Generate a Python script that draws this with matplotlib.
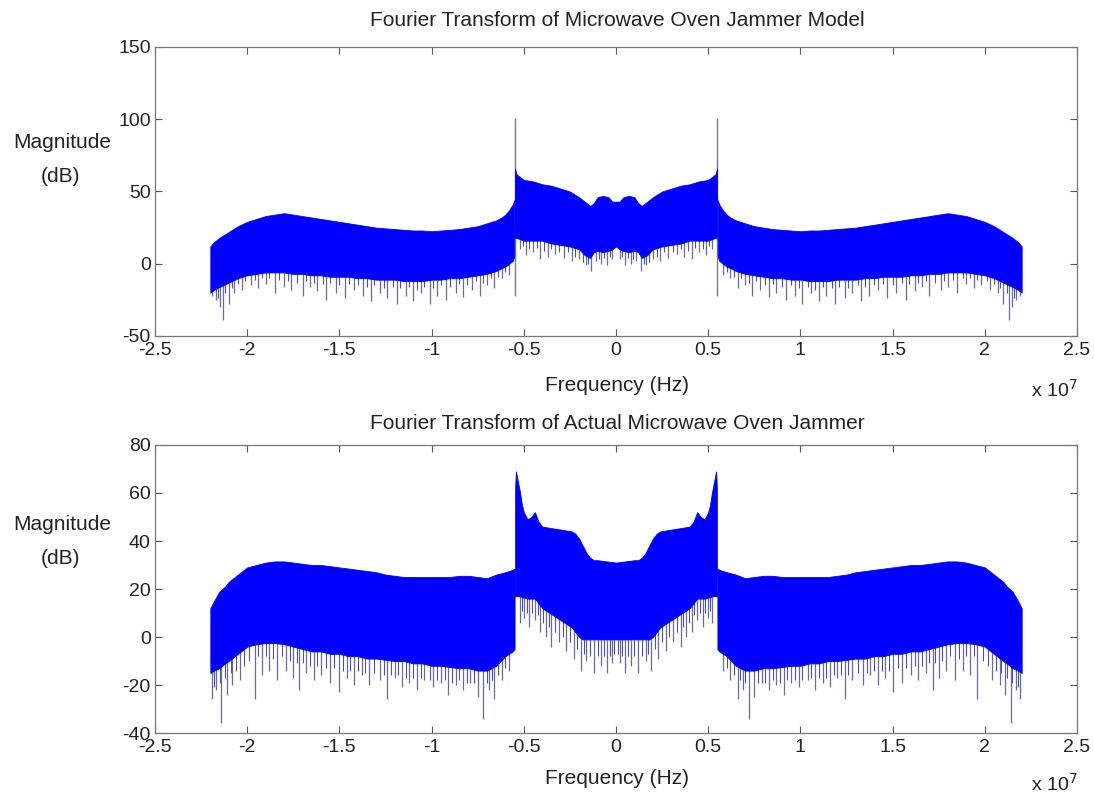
import matplotlib
matplotlib.use("Agg")
import matplotlib.pyplot as plt
import numpy as np

plt.rcParams['font.family'] = ['Liberation Sans', 'DejaVu Sans']
plt.rcParams['axes.unicode_minus'] = False

# spectra are symmetric (real signals), so only the negative-frequency half is read
# frequencies in units of 1e7 Hz, magnitudes in dB

# --- model jammer (top) ---
model_out_f = [-2.20, -2.18, -2.15, -2.10, -2.05, -2.00, -1.95, -1.90, -1.85, -1.80,
               -1.75, -1.70, -1.65, -1.60, -1.55, -1.50, -1.45, -1.40, -1.35, -1.30,
               -1.25, -1.20, -1.15, -1.10, -1.05, -1.00, -0.95, -0.90, -0.85, -0.80,
               -0.75, -0.70, -0.65, -0.62, -0.60, -0.58, -0.56, -0.552]
model_out_hi = [12, 15, 18, 22, 26, 29, 31, 33, 34, 35,
                34, 33, 32, 31, 30, 29, 28, 27, 26, 25,
                24.5, 24, 23.5, 23, 23, 22.5, 23, 23.5, 24, 25,
                26, 28, 30, 32, 34, 37, 41, 44]
model_out_lo = [-20, -18, -16, -13, -10, -8, -7, -6, -6, -6,
                -7, -7, -8, -8, -9, -9, -9, -10, -10, -11,
                -11, -11, -12, -12, -12, -11, -11, -10, -10, -9,
                -8, -7, -5, -3, -2, 0, 2, 5]
model_mid_f = [-0.548, -0.54, -0.52, -0.50, -0.45, -0.40, -0.35, -0.30, -0.25, -0.20,
               -0.17, -0.14, -0.12, -0.10, -0.07, -0.04, -0.02, 0.0]
model_mid_hi = [66, 62, 60, 58, 57, 55, 54, 52, 50, 46,
                43, 40, 42, 46, 47, 46, 43, 43]
model_mid_lo = [18, 18, 17, 16, 16, 16, 14, 13, 12, 10,
                6, 4, 8, 9, 8, 9, 10, 12]
model_spike_f = [-2.19, -2.17, -2.15, -2.13, -2.10, -2.07, -2.03, -1.98, -1.94, -1.90,
                 -1.85, -1.80, -1.76, -1.70, -1.66, -1.62, -1.57, -1.52, -1.47, -1.42,
                 -1.37, -1.33, -1.28, -1.24, -1.19, -1.14, -1.10, -1.06, -1.01, -0.97,
                 -0.92, -0.87, -0.83, -0.78, -0.74, -0.70, -0.66, -0.62, -0.58,
                 -0.52, -0.49, -0.45, -0.41, -0.37, -0.33, -0.28, -0.24, -0.20, -0.165,
                 -0.135, -0.11, -0.08, -0.05, -0.02]
model_spike_lo = [-22, -25, -30, -39, -28, -20, -18, -15, -17, -14,
                  -20, -16, -18, -22, -16, -19, -25, -20, -24, -18,
                  -22, -26, -20, -24, -28, -22, -26, -20, -28, -22,
                  -25, -20, -23, -18, -22, -15, -17, -10, -8,
                  10, 6, 8, 3, 5, 7, 4, 2, 3, -1,
                  -5, 2, 0, -1, 3]
model_minor_f = [-2.16, -2.12, -2.08, -2.05, -2.01, -1.96, -1.92, -1.88, -1.83, -1.78,
                 -1.73, -1.68, -1.64, -1.59, -1.55, -1.50, -1.45, -1.40, -1.35, -1.31,
                 -1.26, -1.21, -1.17, -1.12, -1.08, -1.04, -0.99, -0.95, -0.90, -0.85,
                 -0.81, -0.76, -0.72, -0.68, -0.64, -0.60,
                 -0.505, -0.47, -0.43, -0.39, -0.35, -0.31, -0.26, -0.22, -0.18, -0.15,
                 -0.09, -0.065, -0.035]
model_minor_lo = [-24, -20, -17, -14, -12, -11, -10, -10, -11, -12,
                  -13, -12, -13, -14, -13, -15, -14, -15, -16, -15,
                  -17, -16, -17, -16, -18, -16, -17, -15, -16, -14,
                  -15, -12, -13, -10, -9, -6,
                  12, 10, 11, 9, 10, 8, 8, 5, 1, 0,
                  3, 4, 5]
model_tone_f = -0.55
model_tone_range = [-22, 101]

# --- measured jammer (bottom) ---
real_out_f = [-2.20, -2.18, -2.15, -2.12, -2.10, -2.05, -2.00, -1.95, -1.90, -1.85,
              -1.80, -1.75, -1.70, -1.65, -1.60, -1.55, -1.50, -1.45, -1.40, -1.35,
              -1.30, -1.25, -1.20, -1.15, -1.10, -1.05, -1.00, -0.95, -0.90, -0.85,
              -0.80, -0.75, -0.70, -0.65, -0.60, -0.56, -0.55]
real_out_hi = [12, 15, 19, 21, 23, 26, 29, 30, 31, 31.5,
               31.5, 31, 30.5, 30, 30, 29.5, 29, 28.5, 28, 27.5,
               27, 26, 25.5, 25, 25, 25, 25, 25, 25, 25.5,
               25.5, 25, 24.5, 26, 27, 28, 28.5]
real_out_lo = [-15, -14, -13, -11, -10, -7, -4, -3, -2.5, -2.5,
               -3, -4, -5, -6, -6, -7, -7, -8, -8, -9,
               -9, -9.5, -10, -10, -11, -11, -12, -12, -12.5, -13,
               -13, -14, -14, -12, -8, -6, -5]
real_mid_f = [-0.547, -0.543, -0.535, -0.52, -0.51, -0.50, -0.48, -0.46, -0.44, -0.42,
              -0.40, -0.36, -0.32, -0.28, -0.24, -0.22, -0.20, -0.18, -0.16, -0.14,
              -0.12, -0.10, -0.05, 0.0]
real_mid_hi = [62, 69, 66, 60, 55, 52, 49, 50, 52, 48,
               46, 45.5, 45, 44.5, 44, 43, 41, 38, 35, 33,
               32, 32, 31.5, 31]
real_mid_lo = [17, 17, 17, 17, 16.5, 16.5, 16, 16, 16, 14,
               12, 10, 8, 6, 4, 2, 0, -1, -1, -1,
               -1, -1, -1, -1]
real_spike_f = [-2.19, -2.17, -2.14, -2.11, -2.08, -2.04, -1.96, -1.92, -1.88, -1.84,
                -1.79, -1.75, -1.72, -1.68, -1.64, -1.60, -1.55, -1.50, -1.46, -1.42,
                -1.38, -1.34, -1.28, -1.24, -1.20, -1.16, -1.12, -1.08, -1.04, -0.99,
                -0.95, -0.91, -0.87, -0.83, -0.79, -0.75, -0.72, -0.69, -0.66, -0.62,
                -0.58,
                -0.52, -0.50, -0.47, -0.44, -0.41, -0.38, -0.35, -0.31, -0.27, -0.23,
                -0.19, -0.16, -0.12, -0.08, -0.05, -0.02]
real_spike_lo = [-26, -22, -36, -24, -20, -18, -26, -16, -14, -18,
                 -14, -17, -22, -15, -18, -16, -19, -23, -17, -20,
                 -16, -20, -18, -26, -17, -21, -19, -22, -18, -21,
                 -19, -24, -20, -22, -19, -25, -34, -22, -26, -18,
                 -14,
                 6, 8, 4, 7, 2, 0, -4, -2, -6, -9,
                 -14, -10, -15, -12, -15, -11]
real_minor_f = [-2.18, -2.15, -2.12, -2.09, -2.06, -2.02, -1.99, -1.94, -1.90, -1.86,
                -1.81, -1.77, -1.73, -1.70, -1.66, -1.62, -1.57, -1.53, -1.48, -1.44,
                -1.40, -1.36, -1.31, -1.26, -1.22, -1.18, -1.14, -1.10, -1.06, -1.01,
                -0.97, -0.93, -0.89, -0.85, -0.81, -0.77, -0.70, -0.67, -0.64, -0.60,
                -0.51, -0.485, -0.455, -0.425, -0.395, -0.365, -0.33, -0.29, -0.25, -0.21,
                -0.175, -0.14, -0.10, -0.065, -0.035, -0.01]
real_minor_lo = [-21, -19, -17, -15, -14, -12, -10, -8, -8, -9,
                 -8, -10, -11, -11, -12, -12, -13, -13, -14, -14,
                 -14, -15, -15, -16, -16, -16, -17, -17, -17, -18,
                 -18, -18, -19, -18, -19, -19, -19, -18, -16, -13,
                 11, 10, 10, 9, 6, 4, 2, 0, -2, -5,
                 -7, -8, -8, -8, -8, -7]

xtick_vals = [-2.5, -2, -1.5, -1, -0.5, 0, 0.5, 1, 1.5, 2, 2.5]
xtick_labels = ['-2.5', '-2', '-1.5', '-1', '-0.5', '0', '0.5', '1', '1.5', '2', '2.5']
top_yticks = [-50, 0, 50, 100, 150]
bot_yticks = [-40, -20, 0, 20, 40, 60, 80]

W, H = 1094, 793
fig = plt.figure(figsize=(W / 100, H / 100), dpi=100)


def px(x, y):
    return x / W, 1 - y / H


def mirror(f, v, centre=False):
    f = np.asarray(f) * 1e7
    v = np.asarray(v, dtype=float)
    if centre:
        return np.concatenate([f, -f[-2::-1]]), np.concatenate([v, v[-2::-1]])
    return -f[::-1], v[::-1]


def draw_panel(ax, out_f, out_hi, out_lo, mid_f, mid_hi, mid_lo, spikes):
    blue = '#0000ff'
    segs = []
    f = np.asarray(out_f) * 1e7
    segs.append((f, np.asarray(out_hi, float), np.asarray(out_lo, float)))
    fr, hr = mirror(out_f, out_hi)
    _, lr = mirror(out_f, out_lo)
    segs.append((fr, hr, lr))
    fm, hm = mirror(mid_f, mid_hi, centre=True)
    _, lm = mirror(mid_f, mid_lo, centre=True)
    segs.append((fm, hm, lm))
    for sf, shi, slo in segs:
        ax.fill_between(sf, slo, shi, color=blue, lw=0.6, zorder=3)
    # downward dips below the dense band, on both sides of 0 Hz
    for sp_f, sp_lo, col, lw in spikes:
        sp = np.asarray(sp_f) * 1e7
        spl = np.asarray(sp_lo, float)
        allf = np.concatenate([sp, -sp])
        alll = np.concatenate([spl, spl])
        tops = []
        for x0 in allf:
            top = 0
            for sf, shi, slo in segs:
                if sf.min() <= x0 <= sf.max():
                    top = np.interp(x0, sf, shi) - 3
                    break
            tops.append(top)
        ax.vlines(allf, alll, tops, color=col, lw=lw, zorder=2)


def style(ax, yticks, ylim):
    ax.set_xlim(-2.5e7, 2.5e7)
    ax.set_ylim(*ylim)
    ax.set_xticks(np.array(xtick_vals) * 1e7)
    ax.set_xticklabels(xtick_labels)
    ax.set_yticks(yticks)
    ax.set_yticklabels([str(t) for t in yticks])
    ax.tick_params(direction='in', top=True, right=True, length=5, width=0.8,
                   colors='#555555', labelcolor='#222222', labelsize=14)
    ax.tick_params(axis='x', pad=4)
    ax.tick_params(axis='y', pad=3)
    for s in ax.spines.values():
        s.set_color('#777777')
        s.set_linewidth(0.9)


left, right = 155, 1077
ax1 = fig.add_axes([left / W, 1 - 336 / H, (right - left) / W, 289 / H])
draw_panel(ax1, model_out_f, model_out_hi, model_out_lo, model_mid_f, model_mid_hi,
           model_mid_lo,
           [(model_minor_f, model_minor_lo, '#4a4ad0', 0.8),
            (model_spike_f, model_spike_lo, '#6868a8', 0.9)])
ax1.vlines([model_tone_f * 1e7, -model_tone_f * 1e7], model_tone_range[0], model_tone_range[1],
           color='#7a7a9a', lw=1.0, zorder=2)
style(ax1, top_yticks, (-50, 150))

ax2 = fig.add_axes([left / W, 1 - 733 / H, (right - left) / W, 288 / H])
draw_panel(ax2, real_out_f, real_out_hi, real_out_lo, real_mid_f, real_mid_hi,
           real_mid_lo,
           [(real_minor_f, real_minor_lo, '#4a4ad0', 0.8),
            (real_spike_f, real_spike_lo, '#6868a8', 0.9)])
style(ax2, bot_yticks, (-40, 80))

txt = dict(color='#222222', fontsize=15, ha='center', va='center')
fig.text(*px(617, 21), 'Fourier Transform of Microwave Oven Jammer Model', **txt)
fig.text(*px(617, 423), 'Fourier Transform of Actual Microwave Oven Jammer', **txt)
fig.text(*px(617, 386), 'Frequency (Hz)', **txt)
fig.text(*px(617, 779), 'Frequency (Hz)', **txt)
for yy in (142, 524):
    fig.text(*px(62, yy), 'Magnitude', **txt)
    fig.text(*px(61, yy + 34), '(dB)', **txt)
for yy in (390, 784):
    fig.text(*px(1078, yy), r'x 10$^7$', color='#222222', fontsize=14, ha='right', va='center')

fig.savefig('out.png', dpi=100)
